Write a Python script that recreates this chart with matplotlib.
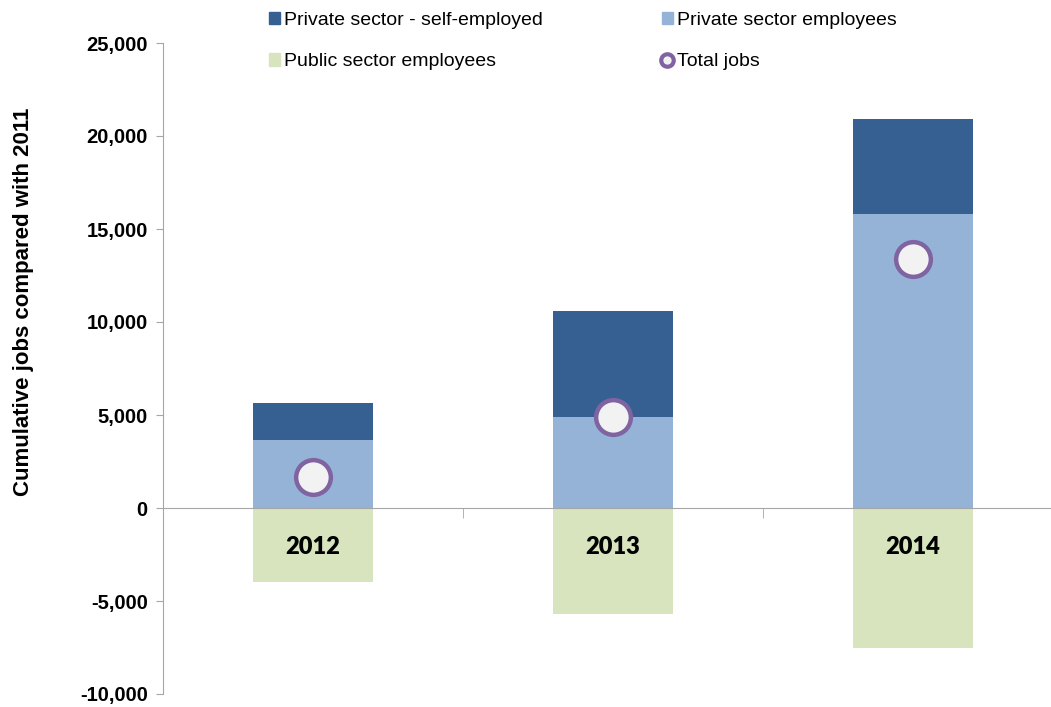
import numpy as np
import matplotlib.pyplot as plt
from matplotlib.lines import Line2D
from matplotlib.patches import Patch
from matplotlib.ticker import FuncFormatter

# cumulative change vs 2011
years = ["2012", "2013", "2014"]
private_employees = [3650, 4900, 15800]
self_employed = [2000, 5700, 5100]
public_employees = [-4000, -5700, -7500]
total_jobs = [1650, 4900, 13400]

c_self = "#366092"
c_priv = "#95B3D7"
c_pub = "#D7E4BD"
c_ring = "#8064A2"
c_axis = "#A6A6A6"

fig = plt.figure(figsize=(10.51, 7.07), dpi=100)
ax = fig.add_axes([163 / 1051, 13 / 707, 900 / 1051, 651 / 707])
ax.set_axisbelow(False)

x = np.arange(len(years))
w = 0.4
ax.bar(x, private_employees, w, color=c_priv, zorder=1)
ax.bar(x, self_employed, w, bottom=private_employees, color=c_self, zorder=1)
ax.bar(x, public_employees, w, color=c_pub, zorder=1)
ax.plot(x, total_jobs, "o", ms=25, mfc="#F2F2F2", mec=c_ring, mew=3.2, zorder=4)

ax.set_xlim(-0.5, 2.5)
ax.set_ylim(-10000, 25000)
ax.set_yticks(np.arange(-10000, 25001, 5000))
ax.yaxis.set_major_formatter(FuncFormatter(lambda v, p: f"{int(v):,}"))
for lab in ax.get_yticklabels():
    lab.set_fontweight("bold")
    lab.set_fontfamily("Liberation Sans")
    lab.set_fontsize(14.5)
ax.tick_params(axis="y", length=5, color=c_axis, pad=6)
ax.set_ylabel("Cumulative jobs compared with 2011", fontsize=16, fontweight="bold",
              family="Liberation Sans")
ax.yaxis.set_label_coords(-0.143, 0.602)

for s in ["top", "right"]:
    ax.spines[s].set_visible(False)
ax.spines["left"].set_color(c_axis)
ax.spines["bottom"].set_position(("data", 0))
ax.spines["bottom"].set_color(c_axis)

ax.set_xticks(x)
ax.set_xticklabels(years, fontsize=17, fontweight="heavy", family="Lato")
ax.tick_params(axis="x", which="major", length=0, pad=20)
ax.set_xticks([-0.5, 0.5, 1.5, 2.5], minor=True)
ax.tick_params(axis="x", which="minor", length=7, color=c_axis)

# legend fills column-wise, so order gives two rows of two
handles = [
    Patch(color=c_self, label="Private sector - self-employed"),
    Patch(color=c_pub, label="Public sector employees"),
    Patch(color=c_priv, label="Private sector employees"),
    Line2D([], [], ls="none", marker="o", ms=9, mfc="#F2F2F2", mec=c_ring, mew=3,
           label="Total jobs"),
]
fig.legend(handles=handles, ncol=2, loc="upper left", bbox_to_anchor=(251 / 1051, 1.008),
           frameon=False, prop={"family": "Liberation Sans", "size": 14},
           handlelength=0.6, handleheight=0.6, handletextpad=0.2,
           columnspacing=6.1, labelspacing=1.25)

fig.savefig("out.png", dpi=100)
